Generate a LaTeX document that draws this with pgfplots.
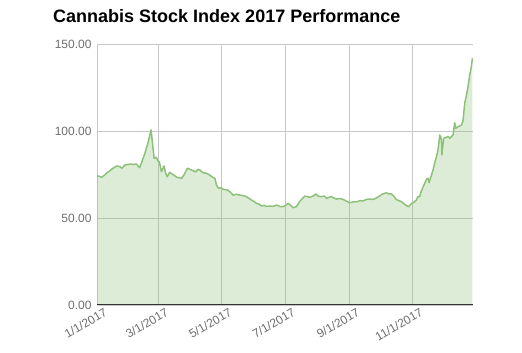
\documentclass[border=0pt]{standalone}
\usepackage{pgfplots}
\pgfplotsset{compat=1.18}
\usepackage{pgfplotstable}
\usepackage{fontspec}
\setmainfont{Liberation Sans}
\definecolor{linegreen}{RGB}{141,192,121}
\definecolor{ticktext}{RGB}{110,110,110}
\pgfplotstableread{
day value
0 74.3
2 74.0
4.5 73.4
7 74.5
9 75.7
12 77
14 78
17 79.2
19 79.9
22 79.5
24 78.6
27 80.5
30 80.8
32 81
35 80.8
38 81
41 78.9
43 82
46 87
49 93
52 100.6
54 90
55 84.3
57 84.9
59 82.5
60 82.4
62 76.6
64.5 79.9
66 76
67.6 73.7
70 76.3
73 75
77 73.4
81.5 72.8
84 75
87 78.6
90 77.8
92.6 77.2
95 76.5
97.5 78
99 77.6
102 76
105 75.8
108.7 74.7
111 73.5
113.5 72.8
115 69
117 67
119 67.5
121.5 66.5
125 66.2
128 65.1
131 63.2
134 63.6
137.6 63.2
140.7 62.8
142.4 62.6
145 61.8
148.8 60.3
151 59.6
153.6 58.4
156 58
158.4 56.9
161 57.3
163 56.6
166.4 56.9
170 56.7
172.9 57.5
176 56.6
179 56.5
181 57
184 58.4
186 57.6
188.8 55.9
192 56.5
195 59.4
197.5 61
200 62.6
203 62.2
205 61.9
208 62.6
211 63.8
213 62.5
216 62.3
219 62.6
221 61.3
223.5 61.9
225.8 62.3
228 61.5
230.6 60.9
234 61.2
237 60.7
240 59.7
243.4 58.8
245.5 59.1
248 59.4
250.5 59.3
253 60
256 59.8
259.5 60.7
262 60.9
265.8 60.7
268 61.2
272 62.6
275 63.8
278.7 64.5
281 63.8
283.5 63.8
286 62.4
288 60.7
290.5 60
293 59.4
296 58
298.5 56.9
300 56.5
302.7 58.4
304.5 58.8
307.5 60.3
309 62.3
310.7 62.3
312 65.1
314 68
315.5 69.9
317.5 72.5
318.7 72.8
319.7 70.3
322 74.7
323.5 77.5
325 81.4
326.5 84.5
328.3 89
329.2 93.5
330 97.7
331 96.5
331.6 94.8
332 86.2
333 92
333.8 95.8
336.4 96.4
338 96.9
339.6 95.8
341 96.7
342.8 97.7
344.4 104.8
345.4 101.6
347 102.2
349.2 102.9
351 103.5
352.4 105.9
354 115.9
355.5 120
357.2 125.5
358.8 132.2
360.4 137
361.4 141.8
}\stock
\begin{document}
\begin{tikzpicture}[x=1pt,y=1pt]
\path[use as bounding box] (0,0) rectangle (522,353);
\node[anchor=base west, font=\bfseries\fontsize{18}{18}\selectfont, inner sep=0pt] at (53,330) {Cannabis Stock Index 2017 Performance};
\begin{axis}[
  at={(97pt,48pt)}, anchor=south west,
  scale only axis, width=376pt, height=261pt,
  xmin=0, xmax=362, ymin=0, ymax=150,
  axis line style={draw=none},
  major tick length=0pt,
  xtick={0,59,120,181,243,304},
  xticklabels={1/1/2017,3/1/2017,5/1/2017,7/1/2017,9/1/2017,11/1/2017},
  ytick={0,50,100,150},
  grid=major,
  major grid style={color=black!22, line width=0.7pt},
  /pgf/number format/assume math mode=true,
  y tick label style={/pgf/number format/fixed, /pgf/number format/fixed zerofill, /pgf/number format/precision=2},
  yticklabel style={font=\fontsize{12}{12}\selectfont, text=ticktext, xshift=-2pt},
  xticklabel style={font=\fontsize{12}{12}\selectfont, text=ticktext, rotate=30, anchor=north east, xshift=8pt, yshift=-2pt},
]
\addplot[draw=none, fill=linegreen, fill opacity=0.3] table[x=day, y=value] {\stock} \closedcycle;
\addplot[color=linegreen, line width=1.5pt, line join=round] table[x=day, y=value] {\stock};
\draw[color=black!80, line width=1pt] (rel axis cs:0,0) -- (rel axis cs:1,0);
\end{axis}
\end{tikzpicture}
\end{document}
